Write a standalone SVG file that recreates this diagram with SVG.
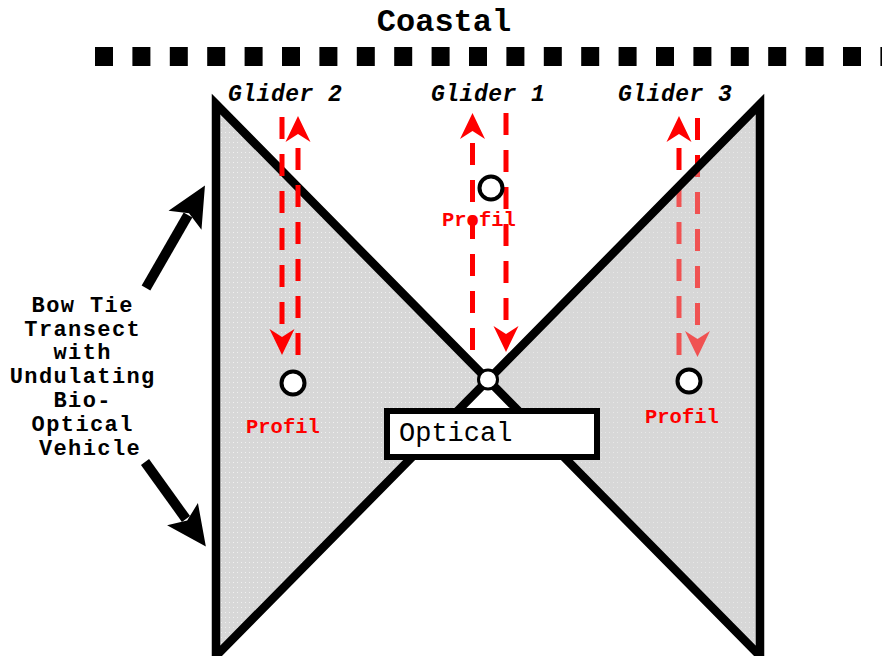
<svg xmlns="http://www.w3.org/2000/svg" width="882" height="656" viewBox="0 0 882 656">
<defs>
<pattern id="dots" width="4" height="5" patternUnits="userSpaceOnUse">
<rect width="4" height="5" fill="#d7d7d7"/>
<rect x="1" y="2" width="1" height="1" fill="#f0f0f0"/>
</pattern>
<marker id="rh" markerUnits="userSpaceOnUse" markerWidth="30" markerHeight="30" refX="4" refY="0" orient="auto" overflow="visible">
<path d="M26,0 L0,-12.5 L8,0 L0,12.5 Z" fill="#ff0000" stroke="none"/>
</marker>
<marker id="bh" markerUnits="userSpaceOnUse" markerWidth="44" markerHeight="44" refX="6" refY="0" orient="auto" overflow="visible">
<path d="M40,0 L0,-19 L8,0 L0,19 Z" fill="#000" stroke="none"/>
</marker>
</defs>
<style>
.tri{fill:url(#dots);stroke:none}
.veil{fill:#d7d7d7;fill-opacity:0.38;stroke:none}
.edge{fill:none;stroke:#000;stroke-width:8.5;stroke-linejoin:miter}
.red{fill:none;stroke:#ff0000;stroke-width:5;stroke-dasharray:22 15;marker-end:url(#rh)}
.blk{fill:none;stroke:#000;stroke-width:10;marker-end:url(#bh)}
.pt{fill:#fff;stroke:#000;stroke-width:4}
.mono{font-family:"Liberation Mono","Courier New",monospace}
.glider{font-size:23px;font-weight:bold;font-style:italic;letter-spacing:0.5px;fill:#000}
.prof{font-size:20.5px;font-weight:bold;fill:#ff0000}
.side{font-size:22px;font-weight:bold;letter-spacing:1.4px;fill:#000}
</style>
<rect width="882" height="656" fill="#fff"/>

<g id="coastal">
<text class="mono" x="444" y="31" font-size="32" font-weight="bold" text-anchor="middle">Coastal</text>
<line x1="95" y1="56.5" x2="882" y2="56.5" stroke="#000" stroke-width="19" stroke-dasharray="18 19.4"/>
</g>

<g id="bowtie">
<polygon class="tri" points="216,104 488,380 216,656"/>
<polygon class="tri" points="760,104 488,380 760,656"/>
<polygon class="edge" points="216,104 488,380 216,656"/>
</g>

<g id="connectors">
<path class="red" d="M282,117 V333"/>
<path class="red" d="M298,355 V138"/>
<path class="red" d="M472.5,350 V135"/>
<path class="red" d="M506,113 V330"/>
<path class="red" d="M679,355 V138"/>
<path class="red" d="M697.5,118 V335"/>
<path class="blk" d="M146,288 L188,215"/>
<path class="blk" d="M145,462 L186,519"/>
</g>

<g id="bowtie-right-edge">
<polygon class="veil" points="760,104 488,380 760,656"/>
<polygon class="edge" points="760,104 488,380 760,656"/>
</g>

<g id="glider2">
<text class="mono glider" x="228" y="101">Glider 2</text>
<circle class="pt" cx="293" cy="383" r="11.5"/>
<text class="mono prof" x="246" y="433">Profil</text>
</g>

<g id="glider1">
<text class="mono glider" x="431" y="101">Glider 1</text>
<circle class="pt" cx="491" cy="188" r="11.5"/>
<text class="mono prof" x="442" y="226">Profil</text>
</g>

<g id="glider3">
<text class="mono glider" x="618" y="101">Glider 3</text>
<circle class="pt" cx="689" cy="381" r="11.5"/>
<text class="mono prof" x="645" y="423">Profil</text>
</g>

<g id="optical">
<rect x="387" y="411" width="210" height="46" fill="#fff" stroke="#000" stroke-width="6"/>
<text class="mono" x="399" y="441" font-size="27">Optical</text>
</g>

<g id="center">
<circle cx="488" cy="379.5" r="9.5" fill="#fff" stroke="#000" stroke-width="3"/>
</g>

<g id="side-label">
<text class="mono side" text-anchor="middle">
<tspan x="90" y="311.5">Bow Tie</tspan>
<tspan x="90" y="335.5">Transect</tspan>
<tspan x="90" y="359">with</tspan>
<tspan x="90" y="383">Undulating</tspan>
<tspan x="90" y="406.5">Bio-</tspan>
<tspan x="90" y="431">Optical</tspan>
<tspan x="90" y="454.5">Vehicle</tspan>
</text>
</g>
</svg>
